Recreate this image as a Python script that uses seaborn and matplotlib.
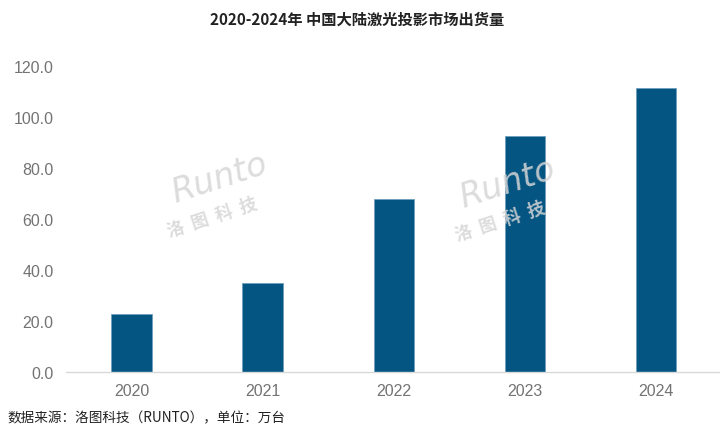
import matplotlib
matplotlib.use("Agg")
import matplotlib.pyplot as plt
import seaborn as sns
import pandas as pd

# data (万台)
years = ["2020", "2021", "2022", "2023", "2024"]
shipments = [22.7, 34.9, 67.8, 92.5, 111.5]
y_ticks = [0, 20, 40, 60, 80, 100, 120]

df = pd.DataFrame({"year": years, "shipments": shipments})

sns.set_style("white")
plt.rcParams["font.family"] = ["Liberation Sans", "Noto Sans CJK SC", "DejaVu Sans"]

fig = plt.figure(figsize=(7.2, 4.31), dpi=100)
ax = fig.add_axes([0.092, 0.134, 0.91, 0.71])

sns.barplot(data=df, x="year", y="shipments", color="#045582", width=0.31,
            saturation=1, edgecolor="#6f9fbd", linewidth=0.6, ax=ax)

ax.set_ylim(0, 120)
ax.set_yticks(y_ticks)
ax.set_yticklabels([f"{v:.1f}" for v in y_ticks])
ax.set_xlabel("")
ax.set_ylabel("")
ax.tick_params(axis="both", length=0, labelsize=11.5, labelcolor="#737373")
ax.tick_params(axis="x", pad=8)
ax.tick_params(axis="y", pad=9)
for s in ["top", "right", "left"]:
    ax.spines[s].set_visible(False)
ax.spines["bottom"].set_color("#d9d9d9")
ax.spines["bottom"].set_linewidth(1.0)

# watermarks
for wx, wy in [(0.305, 0.555), (0.705, 0.545)]:
    fig.text(wx, wy + 0.03, "Runto", rotation=18, fontsize=24, color="#d6d6d6",
             fontstyle="italic", family=["DejaVu Sans"], ha="center", va="center",
             zorder=5, alpha=0.85)
    fig.text(wx - 0.01, wy - 0.06, "洛  图  科  技", rotation=18, fontsize=12.5,
             color="#d6d6d6", fontweight="bold", family=["Noto Sans CJK SC"],
             ha="center", va="center", zorder=5, alpha=0.85)

fig.text(0.496, 0.955, "2020-2024年 中国大陆激光投影市场出货量", ha="center", va="center",
         fontsize=11, fontweight="bold", color="#222222",
         family=["Noto Sans CJK SC", "DejaVu Sans"])
fig.text(0.01, 0.03, "数据来源：洛图科技（RUNTO），单位：万台", ha="left", va="center",
         fontsize=9.8, color="#222222", family=["Noto Sans CJK SC", "DejaVu Sans"])

fig.savefig("out.png", dpi=100, facecolor="white")
